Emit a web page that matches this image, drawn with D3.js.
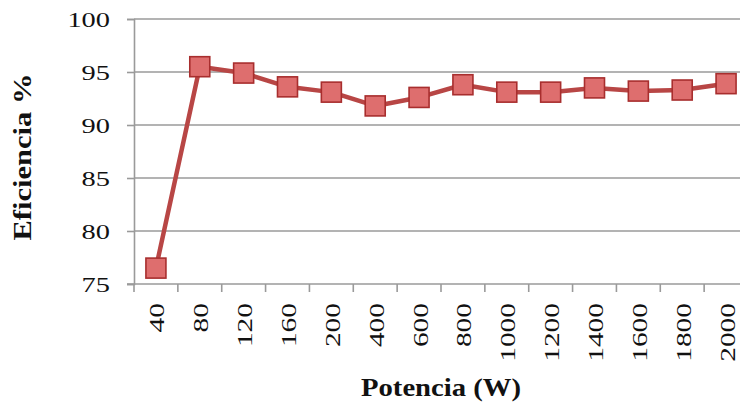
<!DOCTYPE html>
<html>
<head>
<meta charset="utf-8">
<script src="https://cdn.jsdelivr.net/npm/d3@7"></script>
<style>
  html, body { margin: 0; padding: 0; background: #fff; }
  svg { display: block; }
  text { font-family: "Liberation Serif", "Times New Roman", Times, "Noto Serif", serif; fill: #111; }
</style>
</head>
<body>
<svg id="chart" width="740" height="411"></svg>
<script>
// Potencia de salida (W) y eficiencia medida (%)
const categories = ["40", "80", "120", "160", "200", "400", "600", "800",
                    "1000", "1200", "1400", "1600", "1800", "2000"];
const efficiency = [76.5, 95.5, 94.9, 93.6, 93.1, 91.8, 92.6, 93.8,
                    93.1, 93.1, 93.5, 93.2, 93.3, 93.9];
const yTicks = [75, 80, 85, 90, 95, 100];

(function draw() {
  const svg = d3.select("#chart");
  const plotLeft = 134, plotRight = 748, plotTop = 19, plotBottom = 284;

  const x = d3.scaleBand().domain(categories).range([plotLeft, plotRight]);
  const y = d3.scaleLinear().domain([75, 100]).range([plotBottom, plotTop]);

  const gridColor = "#9a9a9a";
  const digitW = 14.2; // advance of one (wide) digit

  // horizontal gridlines
  svg.append("g")
    .selectAll("line")
    .data(yTicks.slice(1))
    .join("line")
    .attr("x1", plotLeft).attr("x2", plotRight)
    .attr("y1", d => y(d)).attr("y2", d => y(d))
    .attr("stroke", gridColor).attr("stroke-width", 1.6);

  // y axis
  const yAxis = svg.append("g")
    .attr("transform", `translate(${plotLeft},0)`)
    .call(d3.axisLeft(y).tickValues(yTicks).tickSize(7).tickFormat(""));
  yAxis.select(".domain").attr("stroke", gridColor).attr("stroke-width", 1.6);
  yAxis.selectAll(".tick line").attr("stroke", gridColor).attr("stroke-width", 1.6);
  yAxis.selectAll(".tick").append("text")
    .attr("x", -24)
    .attr("text-anchor", "end")
    .attr("dy", "0.34em")
    .attr("font-size", 22)
    .attr("fill", "#111")
    .attr("textLength", d => String(d).length * digitW)
    .attr("lengthAdjust", "spacingAndGlyphs")
    .text(d => d);

  // x axis with ticks between categories
  const xAxisG = svg.append("g").attr("transform", `translate(0,${plotBottom})`);
  xAxisG.append("line")
    .attr("x1", plotLeft - 7).attr("x2", plotRight)
    .attr("stroke", gridColor).attr("stroke-width", 1.6);
  xAxisG.selectAll("line.tk")
    .data(categories)
    .join("line")
    .attr("class", "tk")
    .attr("x1", d => x(d) + x.bandwidth()).attr("x2", d => x(d) + x.bandwidth())
    .attr("y1", 0).attr("y2", 8)
    .attr("stroke", gridColor).attr("stroke-width", 1.6);
  xAxisG.append("line")
    .attr("x1", plotLeft).attr("x2", plotLeft).attr("y1", 0).attr("y2", 8)
    .attr("stroke", gridColor).attr("stroke-width", 1.6);
  xAxisG.selectAll("text")
    .data(categories)
    .join("text")
    .attr("transform", d => `translate(${x(d) + x.bandwidth() / 2 + 8.5},19) rotate(-90)`)
    .attr("text-anchor", "end")
    .attr("font-size", 22)
    .attr("textLength", d => d.length * 14.7)
    .attr("lengthAdjust", "spacingAndGlyphs")
    .text(d => d);

  // data line
  const line = d3.line()
    .x((d, i) => x(categories[i]) + x.bandwidth() / 2)
    .y(d => y(d));

  svg.append("path")
    .datum(efficiency)
    .attr("d", line)
    .attr("fill", "none")
    .attr("stroke", "#b84645")
    .attr("stroke-width", 4.5)
    .attr("stroke-linejoin", "round");

  // square markers
  const ms = 20;
  svg.append("g")
    .selectAll("rect")
    .data(efficiency)
    .join("rect")
    .attr("x", (d, i) => x(categories[i]) + x.bandwidth() / 2 - ms / 2)
    .attr("y", d => y(d) - ms / 2)
    .attr("width", ms).attr("height", ms)
    .attr("fill", "#de6e6e")
    .attr("stroke", "#a82e2e")
    .attr("stroke-width", 1.6);

  // axis titles
  svg.append("text")
    .attr("transform", "translate(31,157) rotate(-90)")
    .attr("text-anchor", "middle")
    .attr("font-size", 25)
    .attr("font-weight", "bold")
    .attr("textLength", 167)
    .attr("lengthAdjust", "spacingAndGlyphs")
    .text("Eficiencia %");

  svg.append("text")
    .attr("transform", "translate(441,396)")
    .attr("text-anchor", "middle")
    .attr("font-size", 25)
    .attr("font-weight", "bold")
    .attr("textLength", 160)
    .attr("lengthAdjust", "spacingAndGlyphs")
    .text("Potencia (W)");
})();
</script>
</body>
</html>
